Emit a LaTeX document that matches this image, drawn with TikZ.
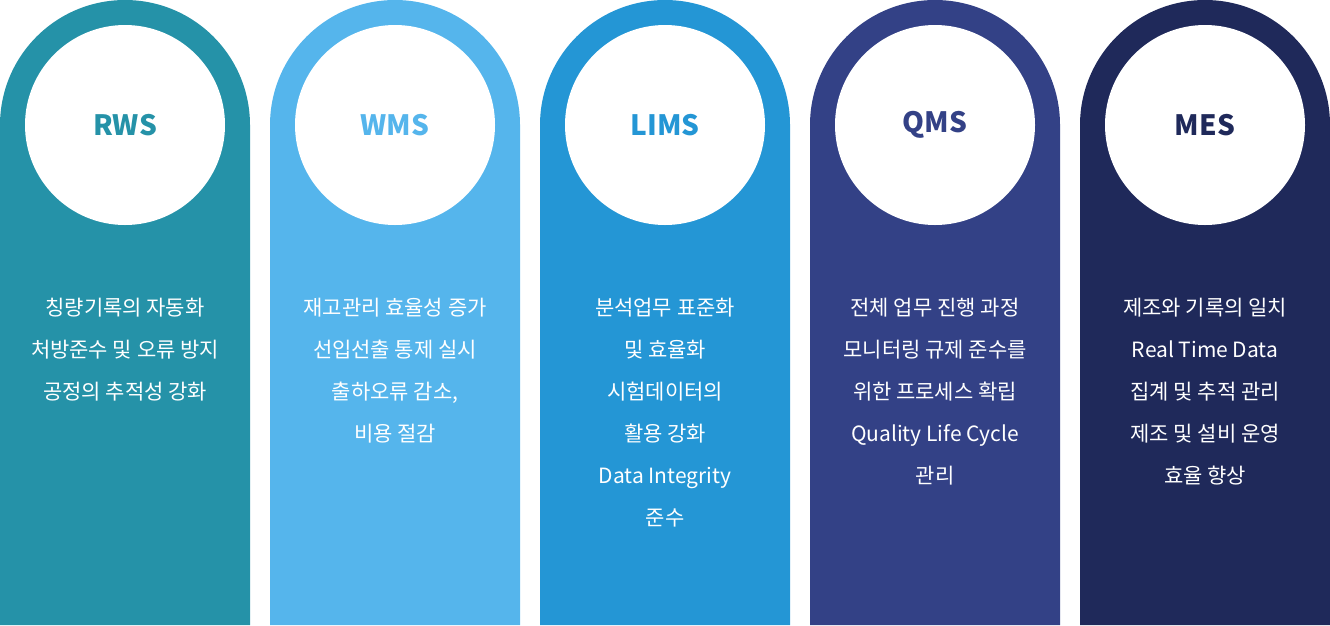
\documentclass[tikz,border=0pt]{standalone}
\usepackage{fontspec}
\setmainfont{Noto Sans CJK KR}
\usetikzlibrary{positioning}
\definecolor{rwscol}{HTML}{2592A8}
\definecolor{wmscol}{HTML}{55B5EC}
\definecolor{limscol}{HTML}{2496D5}
\definecolor{qmscol}{HTML}{334186}
\definecolor{mescol}{HTML}{1F295A}
\tikzset{
    Badge/.style = {circle, fill=white, minimum size=200pt, inner sep=0pt, font=\fontsize{28}{30}\selectfont\bfseries},
    Desc/.style = {text=white, align=center, font=\fontsize{21}{42}\selectfont, anchor=north}
}

\begin{document}
\begin{tikzpicture}[x=1pt,y=-1pt]
\useasboundingbox (0,0) rectangle (1330,625);

% pillars
\foreach \x/\c in {0/rwscol,270/wmscol,540/limscol,810/qmscol,1080/mescol}{
    \fill[\c] (\x,625) -- (\x,125) arc[start angle=180,end angle=360,radius=125] -- (\x+250,625) -- cycle;
}

\node[Badge, text=rwscol] at (125,125) (rws) {RWS};
\node[Badge, text=wmscol] at (395,125) (wms) {WMS};
\node[Badge, text=limscol] at (665,125) (lims) {LIMS};
\node[Badge, text=qmscol] at (935,125) (qms) {QMS};
\node[Badge, text=mescol] at (1205,125) (mes) {MES};

\node[Desc] at (125,295) (rwstxt) {칭량기록의 자동화\\처방준수 및 오류 방지\\공정의 추적성 강화};
\node[Desc] at (395,295) (wmstxt) {재고관리 효율성 증가\\선입선출 통제 실시\\출하오류 감소,\\비용 절감};
\node[Desc] at (665,295) (limstxt) {분석업무 표준화\\및 효율화\\시험데이터의\\활용 강화\\Data Integrity\\준수};
\node[Desc] at (935,295) (qmstxt) {전체 업무 진행 과정\\모니터링 규제 준수를\\위한 프로세스 확립\\Quality Life Cycle\\관리};
\node[Desc] at (1205,295) (mestxt) {제조와 기록의 일치\\Real Time Data\\집계 및 추적 관리\\제조 및 설비 운영\\효율 향상};
\end{tikzpicture}
\end{document}
